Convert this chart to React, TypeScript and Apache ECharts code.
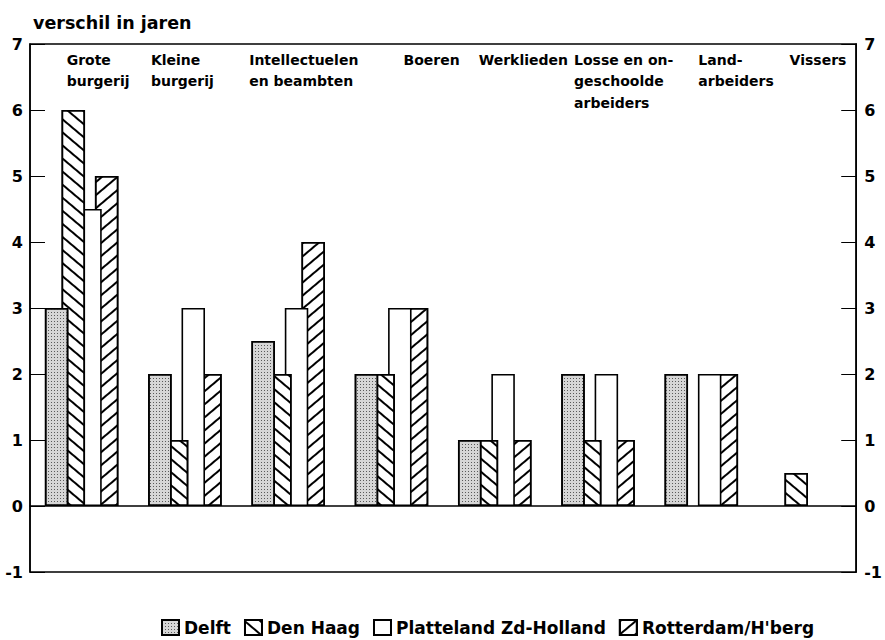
import React, { useEffect, useRef } from "react";
import * as echarts from "echarts";

const categories = [
  "Grote\nburgerij",
  "Kleine\nburgerij",
  "Intellectuelen\nen beambten",
  "Boeren",
  "Werklieden",
  "Losse en on-\ngeschoolde\narbeiders",
  "Land-\narbeiders",
  "Vissers",
];
const seriesNames = ["Delft", "Den Haag", "Platteland Zd-Holland", "Rotterdam/H'berg"];
const delft = [3, 2, 2.5, 2, 1, 2, 2, null];
const denHaag = [6, 1, 2, 2, 1, 1, null, 0.5];
const platteland = [4.5, 3, 3, 3, 2, 2, 2, null];
const rotterdam = [5, 2, 4, 3, 1, 1, 2, null];
const yMin = -1;
const yMax = 7;
const yInterval = 1;
const titleText = "verschil in jaren";

// layout only: horizontal shift of each category caption from its category centre
const captionShift = [-15, -34, -39, 12, -16, -24, -3, -15];

const FONT = '"DejaVu Sans", "Liberation Sans", Arial, sans-serif';

export default function App() {
  const ref = useRef<HTMLDivElement>(null);
  useEffect(() => {
    if (!ref.current) return;
    const chart = echarts.init(ref.current, null, { renderer: "svg" });
    const border = { borderColor: "#000", borderWidth: 1.6 };
    const hatch = (rot: number) => ({
      symbol: "rect",
      symbolSize: 1,
      color: "#000",
      dashArrayX: [1, 0],
      dashArrayY: [1.6, 8],
      rotation: rot,
    });
    const values = [delft, denHaag, platteland, rotterdam];
    const styles: any[] = [
      {
        color: "#d6d6d6",
        ...border,
        decal: {
          symbol: "rect",
          symbolSize: 1,
          color: "#5a5a5a",
          dashArrayX: [1, 2],
          dashArrayY: [1, 2],
          rotation: 0,
        },
      },
      { color: "#fff", ...border, decal: hatch(0.7) },
      { color: "#fff", ...border },
      { color: "#fff", ...border, decal: hatch(-0.7) },
    ];
    const zs = [5, 4, 3, 2];
    const axisLabel = {
      color: "#000",
      fontFamily: FONT,
      fontWeight: "bold" as const,
      fontSize: 16,
    };
    const yAxisBase = {
      type: "value" as const,
      min: yMin,
      max: yMax,
      interval: yInterval,
      splitLine: { show: false },
      axisLine: { show: true, lineStyle: { color: "#000", width: 1.5 } },
      axisTick: { show: true, inside: true, length: 15, lineStyle: { color: "#000", width: 1 } },
    };
    chart.setOption({
      animation: false,
      backgroundColor: "#fff",
      title: {
        text: titleText,
        left: 28,
        top: 9,
        textStyle: { fontFamily: FONT, fontWeight: "bold", fontSize: 17.5, color: "#000" },
      },
      grid: {
        left: 30,
        right: 25,
        top: 44,
        bottom: 68,
        show: true,
        borderColor: "#000",
        borderWidth: 1.5,
        backgroundColor: "transparent",
      },
      legend: {
        data: seriesNames,
        left: 156,
        top: 614,
        itemWidth: 17,
        itemHeight: 15,
        itemGap: 13,
        icon: "rect",
        textStyle: { fontFamily: FONT, fontWeight: "bold", fontSize: 17, color: "#000" },
      },
      xAxis: {
        type: "category",
        data: categories,
        axisLabel: { show: false },
        axisTick: { show: false },
        axisLine: { show: true, onZero: true, lineStyle: { color: "#000", width: 1.5 } },
      },
      yAxis: [
        { ...yAxisBase, position: "left", axisLabel: { ...axisLabel, margin: 7 } },
        { ...yAxisBase, position: "right", axisLabel: { ...axisLabel, margin: 8 } },
      ],
      series: seriesNames.map((name, i) => ({
        name,
        type: "bar",
        data: values[i],
        barWidth: 23.5,
        barGap: "-29%",
        z: zs[i],
        itemStyle: styles[i],
        emphasis: { disabled: true },
      })),
    });
    const graphic = categories.map((c, i) => {
      const x = chart.convertToPixel({ xAxisIndex: 0 }, c) as number;
      return {
        type: "text",
        x: x + captionShift[i],
        y: 49,
        style: {
          text: c,
          fill: "#000",
          fontFamily: FONT,
          fontWeight: "bold",
          fontSize: 14,
          lineHeight: 21.5,
          verticalAlign: "top",
          align: "left",
        },
      };
    });
    chart.setOption({ graphic });
    return () => chart.dispose();
  }, []);
  return (
    <div
      ref={ref}
      style={{ position: "fixed", left: 0, top: 0, width: 885, height: 640 }}
    />
  );
}
